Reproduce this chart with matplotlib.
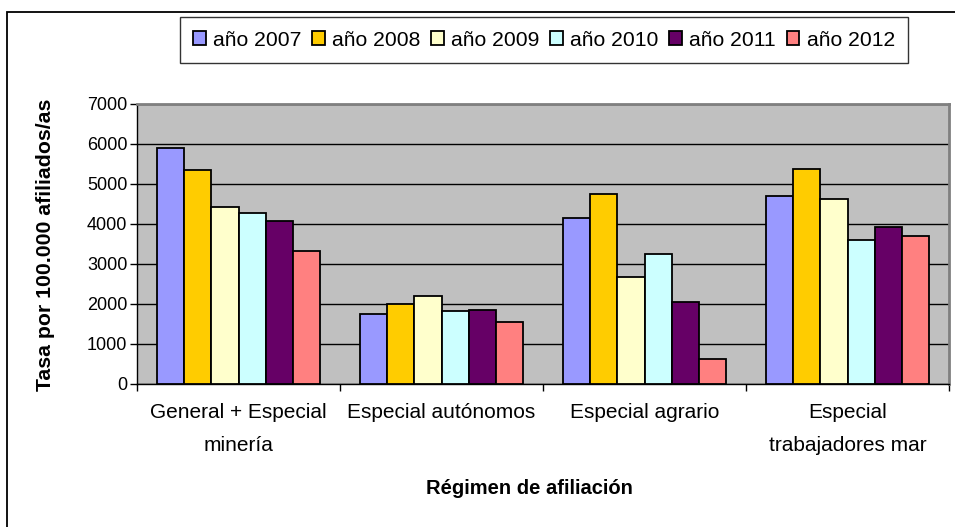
import matplotlib
matplotlib.use("Agg")
import matplotlib.pyplot as plt
import numpy as np
from matplotlib.patches import Rectangle

plt.rcParams['font.family'] = ['Liberation Sans', 'DejaVu Sans']

categories = ["General + Especial\nminería", "Especial autónomos", "Especial agrario", "Especial\ntrabajadores mar"]
series_names = ["año 2007", "año 2008", "año 2009", "año 2010", "año 2011", "año 2012"]
v2007 = [5890, 1740, 4140, 4690]
v2008 = [5340, 2000, 4740, 5380]
v2009 = [4430, 2200, 2680, 4630]
v2010 = [4280, 1825, 3240, 3590]
v2011 = [4080, 1840, 2040, 3930]
v2012 = [3330, 1540, 630, 3690]
series_values = [v2007, v2008, v2009, v2010, v2011, v2012]
colors = ["#9999FF", "#FFCC00", "#FFFFCC", "#CCFFFF", "#660066", "#FF8080"]
yticks = [0, 1000, 2000, 3000, 4000, 5000, 6000, 7000]

W, H = 955, 527
fig = plt.figure(figsize=(W / 100, H / 100), dpi=100)
fig.patch.set_facecolor("white")

# outer chart border (left and top visible; cropped at right/bottom)
fig.patches.append(Rectangle((7 / W, -0.05), 1.2, 1 - 12 / H + 0.05,
                             transform=fig.transFigure, fill=False,
                             edgecolor="black", linewidth=1.3, zorder=0))

left, right, top, bottom = 137, 949, 104, 384
ax = fig.add_axes([left / W, 1 - bottom / H, (right - left) / W, (bottom - top) / H])
ax.set_facecolor("#C0C0C0")

n = len(series_values)
width = 0.8 / n
x = np.arange(len(categories))
for j, (vals, col, name) in enumerate(zip(series_values, colors, series_names)):
    ax.bar(x + (j - (n - 1) / 2) * width, vals, width=width, color=col,
           edgecolor="black", linewidth=1.3, label=name, zorder=3)

ax.set_xlim(-0.5, len(categories) - 0.5)
ax.set_ylim(0, 7000)
ax.set_yticks(yticks)
ax.set_yticklabels([str(t) for t in yticks], fontsize=13)
ax.yaxis.grid(True, color="black", linewidth=1.0, zorder=1)
ax.set_axisbelow(True)

ax.set_xticks(x)
ax.set_xticklabels(categories, fontsize=15, linespacing=1.9)
ax.tick_params(axis="x", length=0, pad=14)
ax.set_xticks(np.arange(-0.5, len(categories), 1.0), minor=True)
ax.tick_params(axis="x", which="minor", length=5, width=1, direction="out", color="black")
ax.tick_params(axis="y", length=5, width=1, direction="out", pad=2, color="black")

for s in ["top", "right"]:
    ax.spines[s].set_color("#808080")
    ax.spines[s].set_linewidth(2)
for s in ["left", "bottom"]:
    ax.spines[s].set_color("black")
    ax.spines[s].set_linewidth(1)

fig.text(46 / W, 1 - 245 / H, "Tasa por 100.000 afiliados/as", rotation=90,
         ha="center", va="center", fontsize=15.3, fontweight="bold")
fig.text(529 / W, 1 - 488 / H, "Régimen de afiliación", ha="center", va="center",
         fontsize=14.5, fontweight="bold")

handles, labels = ax.get_legend_handles_labels()
leg = fig.legend(handles, labels, loc="center", bbox_to_anchor=(544 / W, 1 - 40 / H),
                 ncol=6, fontsize=15.2, frameon=True, fancybox=False, shadow=False,
                 handlelength=0.6, handleheight=0.6, handletextpad=0.35,
                 columnspacing=0.5, borderpad=0.62, edgecolor="black")
leg.get_frame().set_linewidth(1.0)

fig.savefig("out.png", dpi=100, facecolor="white")
